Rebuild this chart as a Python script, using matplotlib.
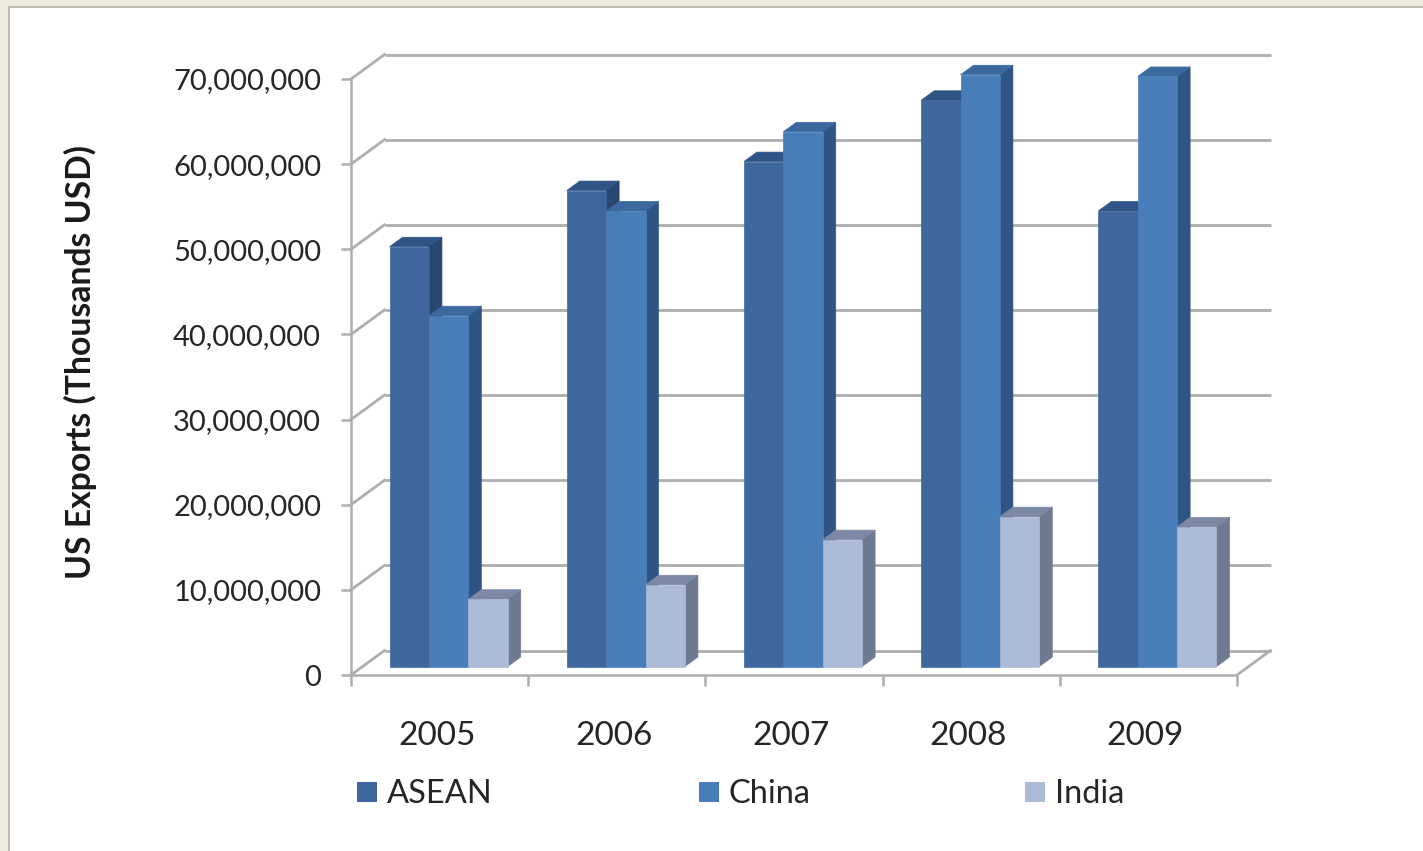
import matplotlib
matplotlib.use('Agg')
import matplotlib.pyplot as plt
from matplotlib.patches import Polygon, Rectangle
from matplotlib.ticker import StrMethodFormatter
from matplotlib.transforms import Affine2D

years = ['2005', '2006', '2007', '2008', '2009']
asean = [49300000, 55900000, 59300000, 66500000, 53500000]
china = [41200000, 53500000, 62800000, 69500000, 69300000]
india = [7900000, 9600000, 14900000, 17600000, 16400000]
names = ['ASEAN', 'China', 'India']
y_ticks = [0, 10000000, 20000000, 30000000, 40000000, 50000000, 60000000, 70000000]

W, H = 1423, 851
GRID = '#aeaeae'
TEXT = '#262626'
# front, top, side
colors = [('#3e689d', '#2f5587', '#274670'),
          ('#4a7ebb', '#3b689f', '#2e5584'),
          ('#aabad7', '#7b89a5', '#6d7a90')]

plt.rcParams['font.family'] = ['Lato', 'DejaVu Sans']

fig = plt.figure(figsize=(W / 100, H / 100), dpi=100, facecolor='white')

# frame of the page around the chart
fig.add_artist(Rectangle((0, 1 - 6 / H), 1, 6 / H, transform=fig.transFigure, fc='#ece9dd', ec='none'))
fig.add_artist(Rectangle((0, 0), 8 / W, 1, transform=fig.transFigure, fc='#ece9dd', ec='none'))
fig.add_artist(Rectangle((8 / W, 1 - 8 / H), 1, 2 / H, transform=fig.transFigure, fc='#bdbdb4', ec='none'))
fig.add_artist(Rectangle((8 / W, 0), 2 / W, 1 - 6 / H, transform=fig.transFigure, fc='#bdbdb4', ec='none'))

# front plane of the 3d box
ax = fig.add_axes([351 / W, 1 - 675 / H, (1237 - 351) / W, (675 - 79) / H])
ax.set_xlim(0, 5)
ax.set_ylim(0, 70000000)
ax.patch.set_visible(False)


def shifted(dx, dy):
    # dx, dy in pixels, dy going up
    return ax.transData + Affine2D().translate(dx, dy)


wall = shifted(33.5, 24.5)
for v in y_ticks:
    ax.plot([0, 5], [v, v], color=GRID, lw=2, transform=wall, clip_on=False, zorder=1, solid_capstyle='butt')
    # diagonal on the left wall
    x0, y0 = ax.transData.transform((0, v))
    ax.plot([x0, x0 + 33.5], [y0, y0 + 24.5], color=GRID, lw=2, transform=None, clip_on=False, zorder=1)
x1, y1 = ax.transData.transform((5, 0))
ax.plot([x1, x1 + 33.5], [y1, y1 + 24.5], color=GRID, lw=2, transform=None, clip_on=False, zorder=1)

# bars stand a bit in front of the back wall
bar_plane = shifted(11.5, 8.5)
bar_w = 1 / 4.5
series = [asean, china, india]
z = 2
for i in range(len(years)):
    for k, vals in enumerate(series):
        left = i + 0.25 * bar_w * 3 + k * bar_w - 0.014
        right = left + bar_w
        top = vals[i]
        front_c, top_c, side_c = colors[k]
        # depth of one bar in pixels
        px_l = bar_plane.transform((left, top))
        px_r = bar_plane.transform((right, top))
        px_b = bar_plane.transform((right, 0))
        d = (13, 9.5)
        side = Polygon([px_r, (px_r[0] + d[0], px_r[1] + d[1]), (px_b[0] + d[0], px_b[1] + d[1]), px_b],
                       closed=True, fc=side_c, ec=side_c, lw=0.5, transform=None, clip_on=False, zorder=z)
        cap = Polygon([px_l, (px_l[0] + d[0], px_l[1] + d[1]), (px_r[0] + d[0], px_r[1] + d[1]), px_r],
                      closed=True, fc=top_c, ec=top_c, lw=0.5, transform=None, clip_on=False, zorder=z)
        front = Rectangle((left, 0), bar_w, top, fc=front_c, ec=front_c, lw=0.5, transform=bar_plane,
                          clip_on=False, zorder=z + 0.5)
        ax.add_patch(side)
        ax.add_patch(cap)
        ax.add_patch(front)
        z += 1

for s in ['top', 'right']:
    ax.spines[s].set_visible(False)
for s in ['left', 'bottom']:
    ax.spines[s].set_color(GRID)
    ax.spines[s].set_linewidth(1.8)
    ax.spines[s].set_zorder(1.5)

ax.set_yticks(y_ticks)
ax.yaxis.set_major_formatter(StrMethodFormatter('{x:,.0f}'))
ax.tick_params(axis='y', length=7, width=1.8, color=GRID, labelsize=21, labelcolor=TEXT, pad=14.5)
ax.set_xticks(range(6))
ax.set_xticklabels([])
ax.tick_params(axis='x', which='major', length=8, width=1.8, color=GRID)
ax.set_xticks([i + 0.483 for i in range(5)], minor=True)
ax.set_xticklabels(years, minor=True)
ax.tick_params(axis='x', which='minor', length=0, labelsize=24, labelcolor=TEXT, pad=33)

fig.text(80 / W, 1 - 362 / H, 'US Exports (Thousands USD)', rotation=90, ha='center', va='center',
         fontsize=24.3, fontweight='bold', color='#1a1a1a')

# legend
legend_x = [357, 699, 1025]
for k, name in enumerate(names):
    fig.add_artist(Rectangle((legend_x[k] / W, 1 - 802 / H), 20 / W, 20 / H, transform=fig.transFigure,
                             fc=colors[k][0], ec='none'))
    fig.text((legend_x[k] + 30) / W, 1 - 794 / H, name, ha='left', va='center', fontsize=23.5, color=TEXT)

fig.savefig('out.png', dpi=100)
